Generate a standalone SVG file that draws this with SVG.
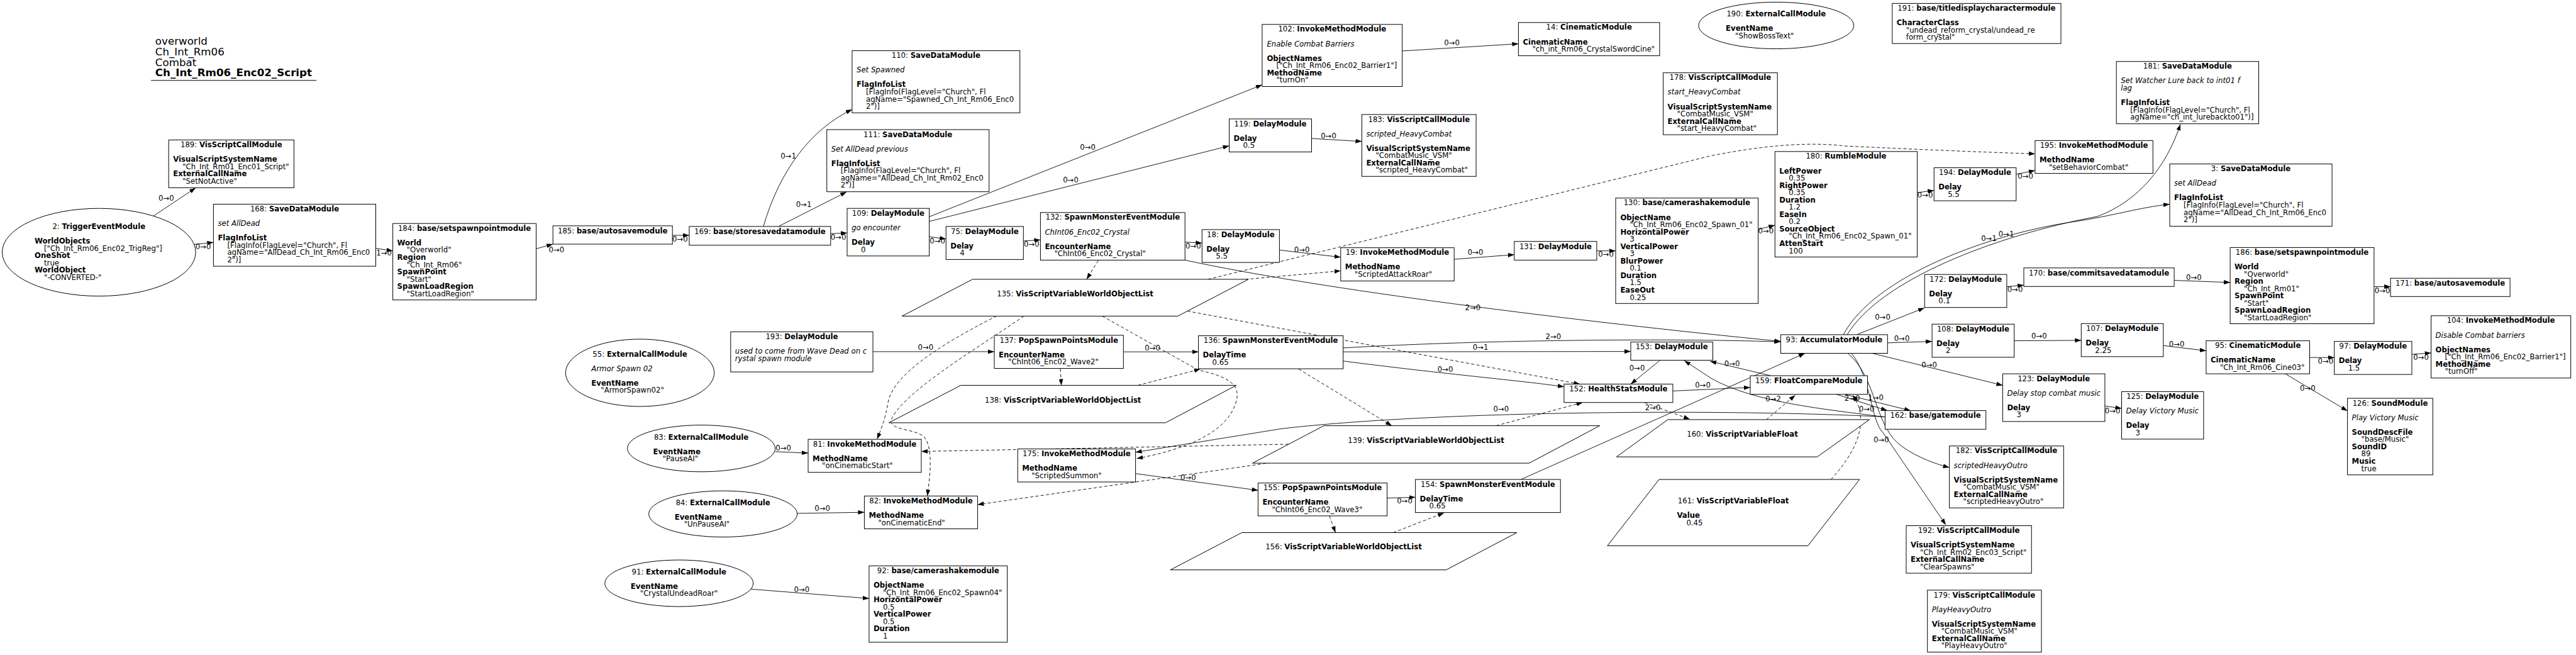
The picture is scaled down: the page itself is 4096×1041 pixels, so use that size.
<svg xmlns="http://www.w3.org/2000/svg" width="4096" height="1041" viewBox="0 0 4096 1041">
<style>
text{font-family:"DejaVu Sans","Liberation Sans",sans-serif;font-size:11.7px;fill:#000}
.b{font-weight:bold}
.i{font-style:italic}
.t{text-anchor:middle}
.h{font-size:16.7px}
.n{fill:#fff;stroke:#000;stroke-width:1}
.e{fill:none;stroke:#000;stroke-width:0.9}
.d{stroke-dasharray:5,3.5}
</style>
<defs>
<marker id="a" viewBox="0 0 10 7" refX="10" refY="3.5" markerWidth="10" markerHeight="7" markerUnits="userSpaceOnUse" orient="auto"><path d="M0,0L10,3.5L0,7z"/></marker>
</defs>
<rect width="4096" height="1041" fill="#fff"/>
<g id="title">
<text class="h" x="246.8" y="71.2">overworld</text>
<text class="h" x="246.8" y="87.9">Ch_Int_Rm06</text>
<text class="h" x="246.8" y="104.6">Combat</text>
<text class="h b" x="246.8" y="121">Ch_Int_Rm06_Enc02_Script</text>
<line x1="240.2" y1="127.8" x2="503.2" y2="127.8" stroke="#000" stroke-width="1"/>
</g>
<g id="edges">
<path class="e" marker-end="url(#a)" d="M243.7,343.5L311,298.7"/>
<path class="e" marker-end="url(#a)" d="M308,388.5L339.4,385.3"/>
<path class="e" marker-end="url(#a)" d="M597.5,394.7L624.6,398.7"/>
<path class="e" marker-end="url(#a)" d="M852.5,395.4L879.2,388"/>
<path class="e" marker-end="url(#a)" d="M1069.2,374L1095.9,374"/>
<path class="e" marker-end="url(#a)" d="M1213.8,359.9C1240,270 1290,205 1354.9,174"/>
<path class="e" marker-end="url(#a)" d="M1237.8,359.9L1346.1,305"/>
<path class="e" marker-end="url(#a)" d="M1320.8,371.3L1347,370.3"/>
<path class="e" marker-end="url(#a)" d="M1477.5,344.5L2006.9,134.8"/>
<path class="e" marker-end="url(#a)" d="M1477.5,351.9L1954.5,231.8"/>
<path class="e" marker-end="url(#a)" d="M1477.5,376.3L1504.2,379.7"/>
<path class="e" marker-end="url(#a)" d="M1627.3,383L1654.4,381.3"/>
<path class="e" marker-end="url(#a)" d="M1884.2,384.7L1911.3,386.3"/>
<path class="e" marker-end="url(#a)" d="M2229.6,81L2414.4,69.6"/>
<path class="e" marker-end="url(#a)" d="M2085.5,220.1L2165.4,224.8"/>
<path class="e" marker-end="url(#a)" d="M2034.4,397.4L2131.8,408.8"/>
<path class="e" marker-end="url(#a)" d="M2312.2,412.1L2407.8,404.7"/>
<path class="e" marker-end="url(#a)" d="M2538.9,398.7L2569,398.7"/>
<path class="e" marker-end="url(#a)" d="M2795.6,364.6L2822.3,357.9"/>
<path class="e" marker-end="url(#a)" d="M3048.5,306.1L3075.2,302.7"/>
<path class="e" marker-end="url(#a)" d="M3205.8,277L3235.9,270.9"/>
<path class="e" marker-end="url(#a)" d="M1884.2,413.4C2100,460 2500,510 2831.4,542.5"/>
<path class="e" marker-end="url(#a)" d="M2135.7,553C2300,543 2600,536 2831.4,543.2"/>
<path class="e" marker-end="url(#a)" d="M2135.7,559.2L2593,558.6"/>
<path class="e" marker-end="url(#a)" d="M2135.7,573.8C2300,595 2420,605 2486.9,614.7"/>
<path class="e" marker-end="url(#a)" d="M2638.9,573.2L2593,610.4"/>
<path class="e" marker-end="url(#a)" d="M2659.9,621.4L2783,615.7"/>
<path class="e" marker-end="url(#a)" d="M2997.4,662.9C2900,650 2790,640 2721,601.4L2678.2,573.2"/>
<path class="e" marker-end="url(#a)" d="M2815.3,597.1L2719.2,574.2"/>
<path class="e" marker-end="url(#a)" d="M2418.3,762L2869.9,561.5"/>
<path class="e" marker-end="url(#a)" d="M2920.1,626.7L3000.9,652.6"/>
<path class="e" marker-end="url(#a)" d="M2933.2,626.7L3038,652.6"/>
<path class="e" marker-end="url(#a)" d="M2952.9,531.6L3059.9,489.4"/>
<path class="e" marker-end="url(#a)" d="M3190.9,455.6L3218,453.2"/>
<path class="e" marker-end="url(#a)" d="M2937,532C2990,445 3170,375 3335,344C3400,320 3445,265 3466.9,197.4"/>
<path class="e" marker-end="url(#a)" d="M2931,532C2980,440 3160,372 3300,352C3360,343 3400,330 3450,324.5"/>
<path class="e" marker-end="url(#a)" d="M3457.1,445.6L3546.1,448.9"/>
<path class="e" marker-end="url(#a)" d="M3774.9,455.6L3801.1,455.6"/>
<path class="e" marker-end="url(#a)" d="M3001.3,544.9L3072.1,542.6"/>
<path class="e" marker-end="url(#a)" d="M3202.7,541.6L3309.3,540.9"/>
<path class="e" marker-end="url(#a)" d="M2976.9,561.5L3184.4,612.4"/>
<path class="e" marker-end="url(#a)" d="M3346.9,645.3L3373.5,649"/>
<path class="e" marker-end="url(#a)" d="M3439.8,549.2L3507.9,557.5"/>
<path class="e" marker-end="url(#a)" d="M3672.5,568.2L3711.7,568.2"/>
<path class="e" marker-end="url(#a)" d="M3835,563.2L3865.6,560.9"/>
<path class="e" marker-end="url(#a)" d="M3633.8,594.1L3732.6,653"/>
<path class="e" marker-end="url(#a)" d="M2938,561.5C2985,600 2980,680 3025,710C3050,728 3080,738 3099.6,743"/>
<path class="e" marker-end="url(#a)" d="M2944,561.5C2975,600 2975,670 2994.4,688L3094,834.2"/>
<path class="e" marker-end="url(#a)" d="M1232.6,717.8L1285,720.1"/>
<path class="e" marker-end="url(#a)" d="M1267.5,815.9L1374.4,814.2"/>
<path class="e" marker-end="url(#a)" d="M1194.1,936.3L1381.9,951.2"/>
<path class="e" marker-end="url(#a)" d="M1388,558.9L1581,558.9"/>
<path class="e" marker-end="url(#a)" d="M1786.3,559.2L1905.6,559.2"/>
<path class="e" marker-end="url(#a)" d="M1805.6,752.7L2000.4,779.3"/>
<path class="e" marker-end="url(#a)" d="M2205.6,791.6L2250.6,790.3"/>
<path class="e" marker-end="url(#a)" d="M2997.4,662.5C2750,650 2300,652 2040,681L1805.6,718.8"/>
<path class="e d" marker-end="url(#a)" d="M1746.2,414.1L1727.8,443.9"/>
<path class="e d" marker-end="url(#a)" d="M1980,444L2131.8,430.5"/>
<path class="e d" marker-end="url(#a)" d="M1920.9,443.9L2721,247.5Q2850,222 2933,232Q3100,240 3235.9,244.5"/>
<path class="e d" marker-end="url(#a)" d="M1888,494.4L2512.2,610.4"/>
<path class="e d" marker-end="url(#a)" d="M2064.9,586.5L2213,676.6"/>
<path class="e d" marker-end="url(#a)" d="M2379,676.6L2516.6,639.7"/>
<path class="e d" marker-end="url(#a)" d="M2614.9,639.7L2686.9,666.3"/>
<path class="e d" marker-end="url(#a)" d="M1685.9,586.1L1687.6,612.4"/>
<path class="e d" marker-end="url(#a)" d="M1809.5,612.4L1908.7,586.5"/>
<path class="e d" marker-end="url(#a)" d="M2113.8,819.9L2123.5,846.5"/>
<path class="e d" marker-end="url(#a)" d="M2215.2,846.5L2296,815.2"/>
<path class="e d" marker-end="url(#a)" d="M1584.5,502.4C1520,535 1420,590 1412,640C1408,665 1400,685 1394.5,698"/>
<path class="e d" marker-end="url(#a)" d="M1628,502.4C1560,550 1440,620 1418,665C1410,685 1455,680 1470,695C1485,715 1478,760 1474.5,788.3"/>
<path class="e d" marker-end="url(#a)" d="M1752.7,502.4L1905,588C1950,598 1975,610 1965,640C1950,690 1880,715 1807.3,728.8"/>
<path class="e d" marker-end="url(#a)" d="M2048.9,706L1464.9,717.5"/>
<path class="e d" marker-end="url(#a)" d="M2030,734L1554.4,802"/>
<path class="e d" marker-end="url(#a)" d="M2808.7,666.9L2854.6,628"/>
<path class="e d" marker-end="url(#a)" d="M2911.4,762C2950,720 2975,670 2946,628"/>
<g class="t">
<text x="264.3" y="318.6">0→0</text>
<text x="323.2" y="396.2">0→0</text>
<text x="610.6" y="405.6">1→0</text>
<text x="884.9" y="401.2">0→0</text>
<text x="1081.4" y="383.9">0→0</text>
<text x="1253.5" y="252.4">0→1</text>
<text x="1278" y="329.3">0→1</text>
<text x="1333" y="380.8">0→0</text>
<text x="1729.6" y="238.4">0→0</text>
<text x="1702.5" y="289.5">0→0</text>
<text x="1490.6" y="387.2">0→0</text>
<text x="1640.4" y="392.2">0→0</text>
<text x="1897.3" y="394.9">0→0</text>
<text x="2308.7" y="72.1">0→0</text>
<text x="2112.5" y="220">0→0</text>
<text x="2070.2" y="401.2">0→0</text>
<text x="2346.2" y="404.9">0→0</text>
<text x="2553.7" y="408.3">0→0</text>
<text x="2807.8" y="370.5">0→0</text>
<text x="3061.2" y="313.6">0→0</text>
<text x="3220.6" y="283.5">0→0</text>
<text x="2341.9" y="492.6">2→0</text>
<text x="2469.8" y="538.5">2→0</text>
<text x="2354.1" y="555.8">0→1</text>
<text x="2298.2" y="591.3">0→0</text>
<text x="2603" y="589">0→0</text>
<text x="2707.5" y="615.6">0→0</text>
<text x="2754.1" y="581.7">0→0</text>
<text x="2628" y="651.5">2→0</text>
<text x="2819.6" y="638.2">0→2</text>
<text x="2945" y="637.2">2→0</text>
<text x="2982.6" y="636.2">1→0</text>
<text x="2968.2" y="653.8">0→0</text>
<text x="2993.5" y="507.6">0→0</text>
<text x="3204" y="464.2">0→0</text>
<text x="3162.5" y="383.2">0→1</text>
<text x="3190" y="375.5">0→1</text>
<text x="3488.3" y="445.1">0→0</text>
<text x="3788.2" y="465.8">0→0</text>
<text x="3024" y="541.5">0→0</text>
<text x="3242.4" y="538.1">0→0</text>
<text x="3067.7" y="584">0→0</text>
<text x="3359.1" y="657.2">0→0</text>
<text x="3461.1" y="550.8">0→0</text>
<text x="3697.9" y="577.7">0→0</text>
<text x="3849.6" y="571.7">0→0</text>
<text x="3669.4" y="620.9">0→0</text>
<text x="2991.3" y="703.1">0→0</text>
<text x="1245.7" y="716.4">0→0</text>
<text x="1307.7" y="812.4">0→0</text>
<text x="1274.9" y="940.5">0→0</text>
<text x="1471.8" y="555.7">0→0</text>
<text x="1832.6" y="556.7">0→0</text>
<text x="1889.4" y="763.2">0→0</text>
<text x="2233.5" y="800.1">0→0</text>
<text x="2386.8" y="653.8">0→0</text>
</g>
</g>
<g id="n189"><rect class="n" x="268.2" y="222.4" width="199.2" height="76"/>
<text class="t" x="367.8" y="234">189: <tspan class="b">VisScriptCallModule</tspan></text>
<text class="b" x="275.2" y="257.1">VisualScriptSystemName</text>
<text x="290.2" y="268.6">"Ch_Int_Rm01_Enc01_Script"</text>
<text class="b" x="275.2" y="280.2">ExternalCallName</text>
<text x="290.2" y="291.7">"SetNotActive"</text></g>
<g id="n2"><ellipse class="n" cx="157.3" cy="400.9" rx="153.8" ry="69.7"/>
<text class="t" x="157.3" y="363.8">2: <tspan class="b">TriggerEventModule</tspan></text>
<text class="b" x="55" y="387">WorldObjects</text>
<text x="70" y="398.5">["Ch_Int_Rm06_Enc02_TrigReg"]</text>
<text class="b" x="55" y="410.1">OneShot</text>
<text x="70" y="421.6">true</text>
<text class="b" x="55" y="433.2">WorldObject</text>
<text x="70" y="444.7">"-CONVERTED-"</text></g>
<g id="n168"><rect class="n" x="339.4" y="324.5" width="258.1" height="98.6"/>
<text class="t" x="468.5" y="336.1">168: <tspan class="b">SaveDataModule</tspan></text>
<text class="i" x="346.4" y="359.2">set AllDead</text>
<text class="b" x="346.4" y="382.3">FlagInfoList</text>
<text x="361.4" y="393.8">[FlagInfo(FlagLevel="Church", Fl</text>
<text x="361.4" y="405.4">agName="AllDead_Ch_Int_Rm06_Enc0</text>
<text x="361.4" y="416.9">2")]</text></g>
<g id="n184"><rect class="n" x="624.6" y="355.2" width="227.9" height="121.5"/>
<text class="t" x="738.6" y="366.8">184: <tspan class="b">base/setspawnpointmodule</tspan></text>
<text class="b" x="631.6" y="389.9">World</text>
<text x="646.6" y="401.4">"Overworld"</text>
<text class="b" x="631.6" y="413">Region</text>
<text x="646.6" y="424.5">"Ch_Int_Rm06"</text>
<text class="b" x="631.6" y="436.1">SpawnPoint</text>
<text x="646.6" y="447.6">"Start"</text>
<text class="b" x="631.6" y="459.2">SpawnLoadRegion</text>
<text x="646.6" y="470.7">"StartLoadRegion"</text></g>
<g id="n185"><rect class="n" x="879.2" y="358.9" width="190" height="29.1"/>
<text class="t" x="974.2" y="370.8">185: <tspan class="b">base/autosavemodule</tspan></text></g>
<g id="n169"><rect class="n" x="1095.9" y="359.9" width="224.9" height="29.8"/>
<text class="t" x="1208.4" y="371.8">169: <tspan class="b">base/storesavedatamodule</tspan></text></g>
<g id="n110"><rect class="n" x="1354.9" y="80.6" width="266.8" height="98.7"/>
<text class="t" x="1488.3" y="92.2">110: <tspan class="b">SaveDataModule</tspan></text>
<text class="i" x="1362" y="115.3">Set Spawned</text>
<text class="b" x="1362" y="138.4">FlagInfoList</text>
<text x="1377" y="149.9">[FlagInfo(FlagLevel="Church", Fl</text>
<text x="1377" y="161.5">agName="Spawned_Ch_Int_Rm06_Enc0</text>
<text x="1377" y="173">2")]</text></g>
<g id="n111"><rect class="n" x="1314.7" y="206" width="258" height="98.7"/>
<text class="t" x="1443.7" y="217.6">111: <tspan class="b">SaveDataModule</tspan></text>
<text class="i" x="1321.7" y="240.7">Set AllDead previous</text>
<text class="b" x="1321.7" y="263.8">FlagInfoList</text>
<text x="1336.7" y="275.3">[FlagInfo(FlagLevel="Church", Fl</text>
<text x="1336.7" y="286.9">agName="AllDead_Ch_Int_Rm02_Enc0</text>
<text x="1336.7" y="298.4">2")]</text></g>
<g id="n109"><rect class="n" x="1347" y="331.2" width="130.5" height="75.6"/>
<text class="t" x="1412.3" y="342.8">109: <tspan class="b">DelayModule</tspan></text>
<text class="i" x="1354" y="365.9">go encounter</text>
<text class="b" x="1354" y="389">Delay</text>
<text x="1369" y="400.5">0</text></g>
<g id="n75"><rect class="n" x="1504.2" y="359.9" width="123.1" height="52.5"/>
<text class="t" x="1565.8" y="371.5">75: <tspan class="b">DelayModule</tspan></text>
<text class="b" x="1511.2" y="394.6">Delay</text>
<text x="1526.2" y="406.1">4</text></g>
<g id="n132"><rect class="n" x="1654.4" y="337.8" width="229.8" height="75.6"/>
<text class="t" x="1769.3" y="349.4">132: <tspan class="b">SpawnMonsterEventModule</tspan></text>
<text class="i" x="1661.4" y="372.5">ChInt06_Enc02_Crystal</text>
<text class="b" x="1661.4" y="395.6">EncounterName</text>
<text x="1676.4" y="407.1">"ChInt06_Enc02_Crystal"</text></g>
<g id="n18"><rect class="n" x="1911.3" y="364.9" width="123.1" height="52.2"/>
<text class="t" x="1972.9" y="376.5">18: <tspan class="b">DelayModule</tspan></text>
<text class="b" x="1918.3" y="399.6">Delay</text>
<text x="1933.3" y="411.1">5.5</text></g>
<g id="n135"><polygon class="n" points="1546.5,443.9 1985.1,443.9 1872.8,502.4 1434.3,502.4"/>
<text class="t" x="1709.5" y="470.8">135: <tspan class="b">VisScriptVariableWorldObjectList</tspan></text></g>
<g id="n102"><rect class="n" x="2006.9" y="38.8" width="222.7" height="98.7"/>
<text class="t" x="2118.3" y="50.4">102: <tspan class="b">InvokeMethodModule</tspan></text>
<text class="i" x="2014.4" y="73.5">Enable Combat Barriers</text>
<text class="b" x="2014.4" y="96.6">ObjectNames</text>
<text x="2029.4" y="108.1">["Ch_Int_Rm06_Enc02_Barrier1"]</text>
<text class="b" x="2014.4" y="119.7">MethodName</text>
<text x="2029.4" y="131.2">"turnOn"</text></g>
<g id="n14"><rect class="n" x="2414.4" y="35.8" width="224.5" height="52.8"/>
<text class="t" x="2526.7" y="47.4">14: <tspan class="b">CinematicModule</tspan></text>
<text class="b" x="2421.4" y="70.5">CinematicName</text>
<text x="2436.4" y="82">"ch_int_Rm06_CrystalSwordCine"</text></g>
<g id="n119"><rect class="n" x="1954.5" y="189" width="131" height="52.5"/>
<text class="t" x="2020" y="200.6">119: <tspan class="b">DelayModule</tspan></text>
<text class="b" x="1961.5" y="223.7">Delay</text>
<text x="1976.5" y="235.2">0.5</text></g>
<g id="n183"><rect class="n" x="2165.4" y="182" width="181.7" height="98.3"/>
<text class="t" x="2256.3" y="193.6">183: <tspan class="b">VisScriptCallModule</tspan></text>
<text class="i" x="2172.4" y="216.7">scripted_HeavyCombat</text>
<text class="b" x="2172.4" y="239.8">VisualScriptSystemName</text>
<text x="2187.4" y="251.3">"CombatMusic_VSM"</text>
<text class="b" x="2172.4" y="262.9">ExternalCallName</text>
<text x="2187.4" y="274.4">"scripted_HeavyCombat"</text></g>
<g id="n19"><rect class="n" x="2131.8" y="393.7" width="180.4" height="52.9"/>
<text class="t" x="2222" y="405.3">19: <tspan class="b">InvokeMethodModule</tspan></text>
<text class="b" x="2138.8" y="428.4">MethodName</text>
<text x="2153.8" y="439.9">"ScriptedAttackRoar"</text></g>
<g id="n131"><rect class="n" x="2407.8" y="383.7" width="131.1" height="29.7"/>
<text class="t" x="2473.4" y="395.6">131: <tspan class="b">DelayModule</tspan></text></g>
<g id="n130"><rect class="n" x="2569" y="314.8" width="226.6" height="167.5"/>
<text class="t" x="2682.3" y="326.4">130: <tspan class="b">base/camerashakemodule</tspan></text>
<text class="b" x="2576.4" y="349.5">ObjectName</text>
<text x="2591.4" y="361">"Ch_Int_Rm06_Enc02_Spawn_01"</text>
<text class="b" x="2576.4" y="372.6">HorizontalPower</text>
<text x="2591.4" y="384.1">3</text>
<text class="b" x="2576.4" y="395.7">VerticalPower</text>
<text x="2591.4" y="407.2">3</text>
<text class="b" x="2576.4" y="418.8">BlurPower</text>
<text x="2591.4" y="430.3">0.1</text>
<text class="b" x="2576.4" y="441.9">Duration</text>
<text x="2591.4" y="453.4">1.5</text>
<text class="b" x="2576.4" y="465">EaseOut</text>
<text x="2591.4" y="476.5">0.25</text></g>
<g id="n178"><rect class="n" x="2644.6" y="115.7" width="181.6" height="98.4"/>
<text class="t" x="2735.4" y="127.3">178: <tspan class="b">VisScriptCallModule</tspan></text>
<text class="i" x="2651.6" y="150.4">start_HeavyCombat</text>
<text class="b" x="2651.6" y="173.5">VisualScriptSystemName</text>
<text x="2666.6" y="185">"CombatMusic_VSM"</text>
<text class="b" x="2651.6" y="196.6">ExternalCallName</text>
<text x="2666.6" y="208.1">"start_HeavyCombat"</text></g>
<g id="n190"><ellipse class="n" cx="2824.3" cy="40.5" rx="123.4" ry="37.1"/>
<text class="t" x="2824.3" y="25.9">190: <tspan class="b">ExternalCallModule</tspan></text>
<text class="b" x="2744.1" y="49.2">EventName</text>
<text x="2759.1" y="60.7">"ShowBossText"</text></g>
<g id="n191"><rect class="n" x="3008.8" y="5.4" width="268.2" height="63.8"/>
<text class="t" x="3142.9" y="17">191: <tspan class="b">base/titledisplaycharactermodule</tspan></text>
<text class="b" x="3015.8" y="40.1">CharacterClass</text>
<text x="3030.8" y="51.6">"undead_reform_crystal/undead_re</text>
<text x="3030.8" y="63.2">form_crystal"</text></g>
<g id="n180"><rect class="n" x="2822.3" y="240.8" width="226.2" height="167.6"/>
<text class="t" x="2935.4" y="252.4">180: <tspan class="b">RumbleModule</tspan></text>
<text class="b" x="2829.3" y="275.5">LeftPower</text>
<text x="2844.3" y="287">0.35</text>
<text class="b" x="2829.3" y="298.6">RightPower</text>
<text x="2844.3" y="310.1">0.35</text>
<text class="b" x="2829.3" y="321.7">Duration</text>
<text x="2844.3" y="333.2">1.2</text>
<text class="b" x="2829.3" y="344.8">EaseIn</text>
<text x="2844.3" y="356.3">0.2</text>
<text class="b" x="2829.3" y="367.9">SourceObject</text>
<text x="2844.3" y="379.4">"Ch_Int_Rm06_Enc02_Spawn_01"</text>
<text class="b" x="2829.3" y="391">AttenStart</text>
<text x="2844.3" y="402.5">100</text></g>
<g id="n194"><rect class="n" x="3075.2" y="266.6" width="130.6" height="52.5"/>
<text class="t" x="3140.5" y="278.2">194: <tspan class="b">DelayModule</tspan></text>
<text class="b" x="3082.2" y="301.3">Delay</text>
<text x="3097.2" y="312.8">5.5</text></g>
<g id="n195"><rect class="n" x="3235.9" y="223.4" width="187.4" height="52.2"/>
<text class="t" x="3329.6" y="235">195: <tspan class="b">InvokeMethodModule</tspan></text>
<text class="b" x="3242.9" y="258.1">MethodName</text>
<text x="3257.9" y="269.6">"setBehaviorCombat"</text></g>
<g id="n181"><rect class="n" x="3365.2" y="97.7" width="226.3" height="99"/>
<text class="t" x="3478.3" y="109.3">181: <tspan class="b">SaveDataModule</tspan></text>
<text class="i" x="3372.2" y="132.4">Set Watcher Lure back to int01 f</text>
<text class="i" x="3372.2" y="143.9">lag</text>
<text class="b" x="3372.2" y="167">FlagInfoList</text>
<text x="3387.2" y="178.5">[FlagInfo(FlagLevel="Church", Fl</text>
<text x="3387.2" y="190.1">agName="ch_int_lurebackto01")]</text></g>
<g id="n3"><rect class="n" x="3450" y="260.6" width="258.1" height="99"/>
<text class="t" x="3579" y="272.2">3: <tspan class="b">SaveDataModule</tspan></text>
<text class="i" x="3457" y="295.3">set AllDead</text>
<text class="b" x="3457" y="318.4">FlagInfoList</text>
<text x="3472" y="329.9">[FlagInfo(FlagLevel="Church", Fl</text>
<text x="3472" y="341.5">agName="AllDead_Ch_Int_Rm06_Enc0</text>
<text x="3472" y="353">2")]</text></g>
<g id="n172"><rect class="n" x="3060.3" y="436.2" width="130.6" height="52.5"/>
<text class="t" x="3125.6" y="447.8">172: <tspan class="b">DelayModule</tspan></text>
<text class="b" x="3067.3" y="470.9">Delay</text>
<text x="3082.3" y="482.4">0.1</text></g>
<g id="n170"><rect class="n" x="3218" y="425.8" width="239.1" height="29.5"/>
<text class="t" x="3337.5" y="437.7">170: <tspan class="b">base/commitsavedatamodule</tspan></text></g>
<g id="n186"><rect class="n" x="3546.1" y="393.4" width="228.8" height="121.1"/>
<text class="t" x="3660.5" y="405">186: <tspan class="b">base/setspawnpointmodule</tspan></text>
<text class="b" x="3553.1" y="428.1">World</text>
<text x="3568.1" y="439.6">"Overworld"</text>
<text class="b" x="3553.1" y="451.2">Region</text>
<text x="3568.1" y="462.7">"Ch_Int_Rm01"</text>
<text class="b" x="3553.1" y="474.3">SpawnPoint</text>
<text x="3568.1" y="485.8">"Start"</text>
<text class="b" x="3553.1" y="497.4">SpawnLoadRegion</text>
<text x="3568.1" y="508.9">"StartLoadRegion"</text></g>
<g id="n171"><rect class="n" x="3801.1" y="442.2" width="190" height="29.1"/>
<text class="t" x="3896.1" y="454">171: <tspan class="b">base/autosavemodule</tspan></text></g>
<g id="n104"><rect class="n" x="3865.6" y="501.8" width="222.1" height="99"/>
<text class="t" x="3976.6" y="513.4">104: <tspan class="b">InvokeMethodModule</tspan></text>
<text class="i" x="3872.6" y="536.5">Disable Combat barriers</text>
<text class="b" x="3872.6" y="559.6">ObjectNames</text>
<text x="3887.6" y="571.1">["Ch_Int_Rm06_Enc02_Barrier1"]</text>
<text class="b" x="3872.6" y="582.7">MethodName</text>
<text x="3887.6" y="594.2">"turnOff"</text></g>
<g id="n193"><rect class="n" x="1161.8" y="527.3" width="226.2" height="63.8"/>
<text class="t" x="1274.9" y="538.9">193: <tspan class="b">DelayModule</tspan></text>
<text class="i" x="1168.8" y="562">used to come from Wave Dead on c</text>
<text class="i" x="1168.8" y="573.5">rystal spawn module</text></g>
<g id="n55"><ellipse class="n" cx="1017.5" cy="592.5" rx="118.2" ry="53.5"/>
<text class="t" x="1017.5" y="566.7">55: <tspan class="b">ExternalCallModule</tspan></text>
<text class="i" x="940.3" y="589.8">Armor Spawn 02</text>
<text class="b" x="940.3" y="612.9">EventName</text>
<text x="955.3" y="624.4">"ArmorSpawn02"</text></g>
<g id="n83"><ellipse class="n" cx="1115.1" cy="712.7" rx="117.5" ry="37.1"/>
<text class="t" x="1115.1" y="698.7">83: <tspan class="b">ExternalCallModule</tspan></text>
<text class="b" x="1038.6" y="721.8">EventName</text>
<text x="1053.6" y="733.3">"PauseAI"</text></g>
<g id="n84"><ellipse class="n" cx="1149.6" cy="816.8" rx="118" ry="36.7"/>
<text class="t" x="1149.6" y="802.5">84: <tspan class="b">ExternalCallModule</tspan></text>
<text class="b" x="1072.7" y="825.6">EventName</text>
<text x="1087.7" y="837.1">"UnPauseAI"</text></g>
<g id="n91"><ellipse class="n" cx="1079.7" cy="927" rx="118" ry="37"/>
<text class="t" x="1079.7" y="912.5">91: <tspan class="b">ExternalCallModule</tspan></text>
<text class="b" x="1002.8" y="935.6">EventName</text>
<text x="1017.8" y="947.1">"CrystalUndeadRoar"</text></g>
<g id="n81"><rect class="n" x="1285" y="698.2" width="179.9" height="52.5"/>
<text class="t" x="1375" y="709.8">81: <tspan class="b">InvokeMethodModule</tspan></text>
<text class="b" x="1292" y="732.9">MethodName</text>
<text x="1307" y="744.4">"onCinematicStart"</text></g>
<g id="n82"><rect class="n" x="1374.4" y="788.3" width="180" height="52.2"/>
<text class="t" x="1464.4" y="799.9">82: <tspan class="b">InvokeMethodModule</tspan></text>
<text class="b" x="1381.4" y="823">MethodName</text>
<text x="1396.4" y="834.5">"onCinematicEnd"</text></g>
<g id="n92"><rect class="n" x="1381.9" y="899.3" width="219.7" height="121.4"/>
<text class="t" x="1491.8" y="910.9">92: <tspan class="b">base/camerashakemodule</tspan></text>
<text class="b" x="1388.9" y="934">ObjectName</text>
<text x="1403.9" y="945.5">"Ch_Int_Rm06_Enc02_Spawn04"</text>
<text class="b" x="1388.9" y="957.1">HorizontalPower</text>
<text x="1403.9" y="968.6">0.5</text>
<text class="b" x="1388.9" y="980.2">VerticalPower</text>
<text x="1403.9" y="991.7">0.5</text>
<text class="b" x="1388.9" y="1003.3">Duration</text>
<text x="1403.9" y="1014.8">1</text></g>
<g id="n137"><rect class="n" x="1581" y="532.9" width="205.3" height="52.6"/>
<text class="t" x="1683.7" y="544.5">137: <tspan class="b">PopSpawnPointsModule</tspan></text>
<text class="b" x="1588" y="567.6">EncounterName</text>
<text x="1603" y="579.1">"ChInt06_Enc02_Wave2"</text></g>
<g id="n136"><rect class="n" x="1905.6" y="533.6" width="230.1" height="52.5"/>
<text class="t" x="2020.7" y="545.2">136: <tspan class="b">SpawnMonsterEventModule</tspan></text>
<text class="b" x="1912.6" y="568.3">DelayTime</text>
<text x="1927.6" y="579.8">0.65</text></g>
<g id="n138"><polygon class="n" points="1527.8,612.4 1965.9,612.4 1853.2,671.9 1413.3,671.9"/>
<text class="t" x="1690.2" y="639.5">138: <tspan class="b">VisScriptVariableWorldObjectList</tspan></text></g>
<g id="n175"><rect class="n" x="1618.2" y="713.5" width="187.4" height="52.5"/>
<text class="t" x="1711.9" y="725.1">175: <tspan class="b">InvokeMethodModule</tspan></text>
<text class="b" x="1625.2" y="748.2">MethodName</text>
<text x="1640.2" y="759.7">"ScriptedSummon"</text></g>
<g id="n155"><rect class="n" x="2000.4" y="767.7" width="205.2" height="52.2"/>
<text class="t" x="2103" y="779.3">155: <tspan class="b">PopSpawnPointsModule</tspan></text>
<text class="b" x="2007.4" y="802.4">EncounterName</text>
<text x="2022.4" y="813.9">"ChInt06_Enc02_Wave3"</text></g>
<g id="n156"><polygon class="n" points="1974.6,846.5 2411.8,846.5 2299.5,905.7 1861,905.7"/>
<text class="t" x="2136.6" y="873.3">156: <tspan class="b">VisScriptVariableWorldObjectList</tspan></text></g>
<g id="n154"><rect class="n" x="2250.6" y="762" width="230.6" height="52.6"/>
<text class="t" x="2365.9" y="773.6">154: <tspan class="b">SpawnMonsterEventModule</tspan></text>
<text class="b" x="2257.6" y="796.7">DelayTime</text>
<text x="2272.6" y="808.2">0.65</text></g>
<g id="n139"><polygon class="n" points="2105.1,676.6 2543.7,676.6 2431.4,736.1 1991.6,736.1"/>
<text class="t" x="2267.6" y="703.7">139: <tspan class="b">VisScriptVariableWorldObjectList</tspan></text></g>
<g id="n153"><rect class="n" x="2593" y="543.6" width="130.5" height="28.9"/>
<text class="t" x="2658.2" y="555.4">153: <tspan class="b">DelayModule</tspan></text></g>
<g id="n152"><rect class="n" x="2486.9" y="610.4" width="173" height="29.3"/>
<text class="t" x="2573.4" y="622.2">152: <tspan class="b">HealthStatsModule</tspan></text></g>
<g id="n160"><polygon class="n" points="2652,666.9 2972.5,666.9 2889.5,726.1 2570.3,726.1"/>
<text class="t" x="2770.5" y="693.7">160: <tspan class="b">VisScriptVariableFloat</tspan></text></g>
<g id="n161"><polygon class="n" points="2638,762 2956.8,762 2874.7,867.4 2555.9,867.4"/>
<text class="t" x="2756.1" y="800.2">161: <tspan class="b">VisScriptVariableFloat</tspan></text>
<text class="b" x="2666.4" y="823.3">Value</text>
<text x="2681.4" y="834.8">0.45</text></g>
<g id="n93"><rect class="n" x="2831.4" y="531.9" width="169.9" height="29.6"/>
<text class="t" x="2916.4" y="543.7">93: <tspan class="b">AccumulatorModule</tspan></text></g>
<g id="n159"><rect class="n" x="2783" y="597.1" width="186.5" height="29.6"/>
<text class="t" x="2876.3" y="608.9">159: <tspan class="b">FloatCompareModule</tspan></text></g>
<g id="n162"><rect class="n" x="2997.4" y="652.6" width="160.3" height="29.6"/>
<text class="t" x="3077.6" y="664.4">162: <tspan class="b">base/gatemodule</tspan></text></g>
<g id="n108"><rect class="n" x="3072.1" y="515.2" width="130.6" height="52.6"/>
<text class="t" x="3137.4" y="526.8">108: <tspan class="b">DelayModule</tspan></text>
<text class="b" x="3079.1" y="549.9">Delay</text>
<text x="3094.1" y="561.4">2</text></g>
<g id="n107"><rect class="n" x="3309.3" y="514.3" width="130.5" height="52.5"/>
<text class="t" x="3374.6" y="525.9">107: <tspan class="b">DelayModule</tspan></text>
<text class="b" x="3316.3" y="549">Delay</text>
<text x="3331.3" y="560.5">2.25</text></g>
<g id="n123"><rect class="n" x="3184.4" y="594.1" width="162.5" height="75.8"/>
<text class="t" x="3265.7" y="605.7">123: <tspan class="b">DelayModule</tspan></text>
<text class="i" x="3191.4" y="628.8">Delay stop combat music</text>
<text class="b" x="3191.4" y="651.9">Delay</text>
<text x="3206.4" y="663.4">3</text></g>
<g id="n125"><rect class="n" x="3373.5" y="622.4" width="130.4" height="75.5"/>
<text class="t" x="3438.7" y="634">125: <tspan class="b">DelayModule</tspan></text>
<text class="i" x="3380.5" y="657.1">Delay Victory Music</text>
<text class="b" x="3380.5" y="680.2">Delay</text>
<text x="3395.5" y="691.7">3</text></g>
<g id="n182"><rect class="n" x="3099.6" y="708.8" width="181.7" height="98.4"/>
<text class="t" x="3190.5" y="720.4">182: <tspan class="b">VisScriptCallModule</tspan></text>
<text class="i" x="3106.6" y="743.5">scriptedHeavyOutro</text>
<text class="b" x="3106.6" y="766.6">VisualScriptSystemName</text>
<text x="3121.6" y="778.1">"CombatMusic_VSM"</text>
<text class="b" x="3106.6" y="789.7">ExternalCallName</text>
<text x="3121.6" y="801.2">"scriptedHeavyOutro"</text></g>
<g id="n192"><rect class="n" x="3031" y="835.5" width="199.2" height="75.5"/>
<text class="t" x="3130.6" y="847.1">192: <tspan class="b">VisScriptCallModule</tspan></text>
<text class="b" x="3038" y="870.2">VisualScriptSystemName</text>
<text x="3053" y="881.7">"Ch_Int_Rm02_Enc03_Script"</text>
<text class="b" x="3038" y="893.3">ExternalCallName</text>
<text x="3053" y="904.8">"ClearSpawns"</text></g>
<g id="n179"><rect class="n" x="3064.7" y="937.9" width="181.3" height="98.4"/>
<text class="t" x="3155.4" y="949.5">179: <tspan class="b">VisScriptCallModule</tspan></text>
<text class="i" x="3071.7" y="972.6">PlayHeavyOutro</text>
<text class="b" x="3071.7" y="995.7">VisualScriptSystemName</text>
<text x="3086.7" y="1007.2">"CombatMusic_VSM"</text>
<text class="b" x="3071.7" y="1018.8">ExternalCallName</text>
<text x="3086.7" y="1030.3">"PlayHeavyOutro"</text></g>
<g id="n95"><rect class="n" x="3507.9" y="541.6" width="164.6" height="52.5"/>
<text class="t" x="3590.2" y="553.2">95: <tspan class="b">CinematicModule</tspan></text>
<text class="b" x="3514.9" y="576.3">CinematicName</text>
<text x="3529.9" y="587.8">"Ch_Int_Rm06_Cine03"</text></g>
<g id="n97"><rect class="n" x="3711.7" y="542.6" width="123.3" height="52.5"/>
<text class="t" x="3773.4" y="554.2">97: <tspan class="b">DelayModule</tspan></text>
<text class="b" x="3718.7" y="577.3">Delay</text>
<text x="3733.7" y="588.8">1.5</text></g>
<g id="n126"><rect class="n" x="3732.6" y="633" width="135.7" height="121.7"/>
<text class="t" x="3800.5" y="644.6">126: <tspan class="b">SoundModule</tspan></text>
<text class="i" x="3739.6" y="667.7">Play Victory Music</text>
<text class="b" x="3739.6" y="690.8">SoundDescFile</text>
<text x="3754.6" y="702.3">"base/Music"</text>
<text class="b" x="3739.6" y="713.9">SoundID</text>
<text x="3754.6" y="725.4">89</text>
<text class="b" x="3739.6" y="737">Music</text>
<text x="3754.6" y="748.5">true</text></g>
</svg>
